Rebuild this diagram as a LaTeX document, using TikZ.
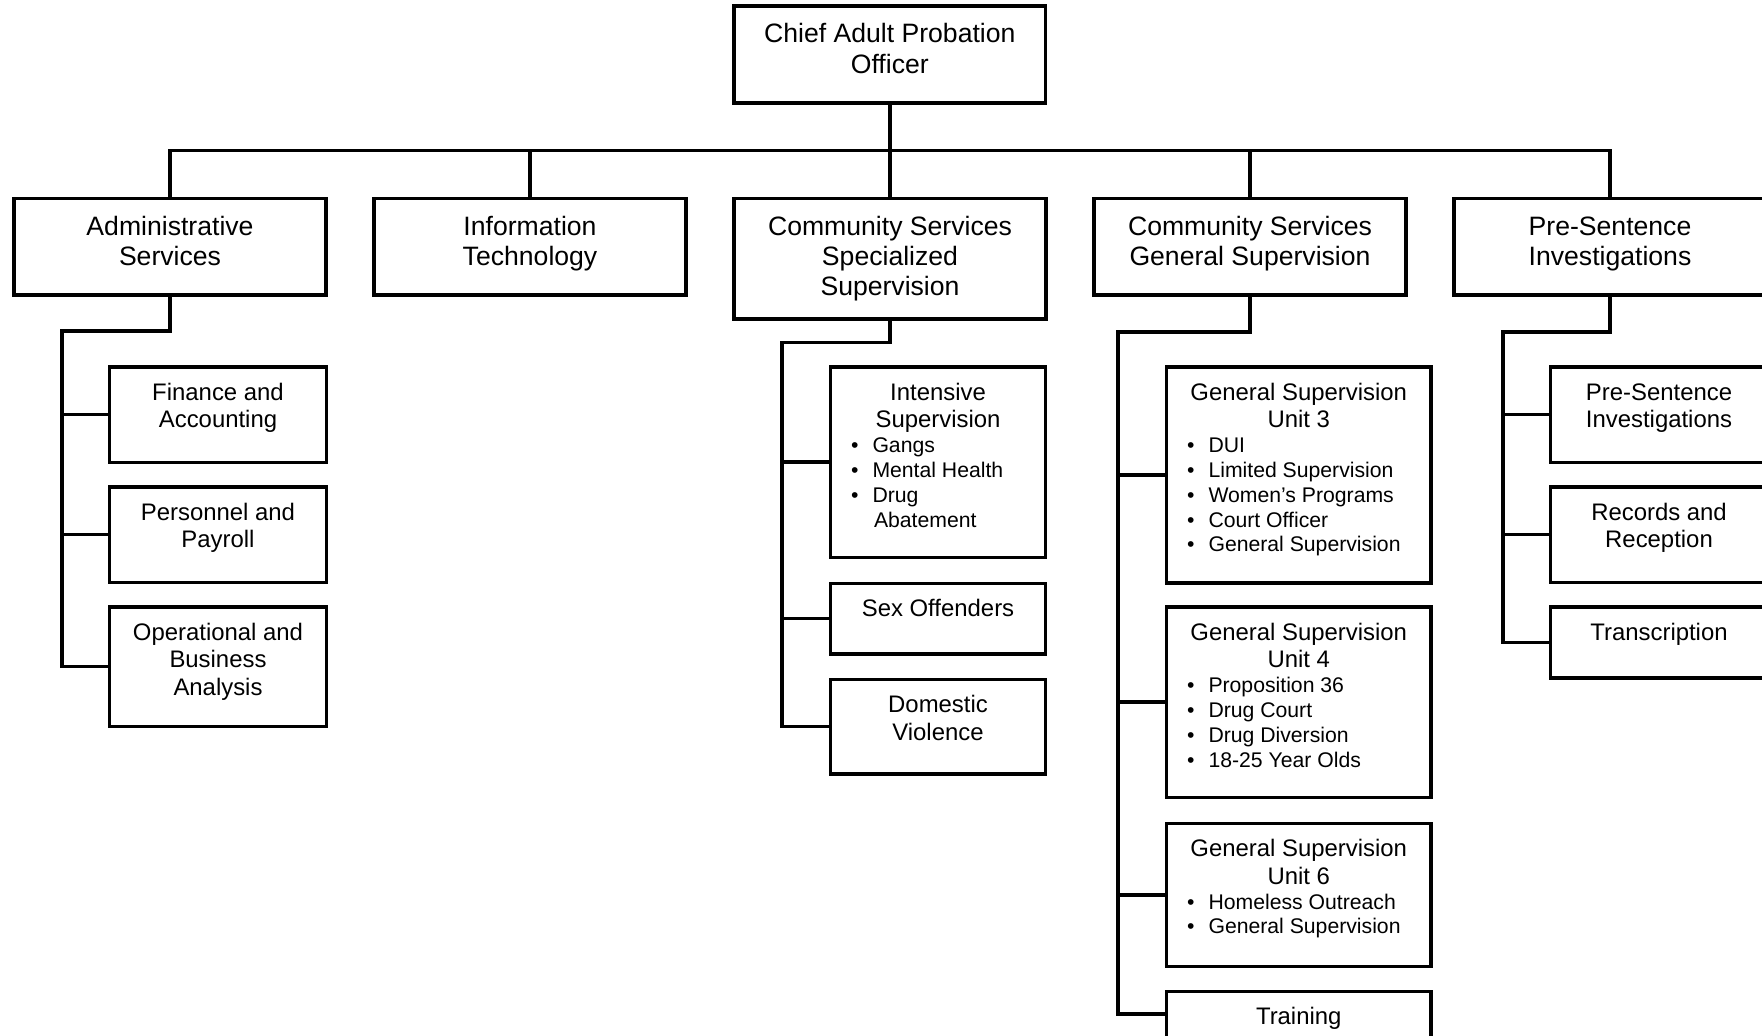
\documentclass[tikz,border=0pt]{standalone}
\usepackage{fontspec}
\setmainfont{Liberation Sans}
\newcommand\topbox[3]{\parbox[c][#1pt][t]{#2pt}{\centering\fontsize{26.6pt}{30.3pt}\selectfont\rule{0pt}{36.5pt}#3\par}}
\newcommand\subbox[4]{\parbox[c][#1pt][t]{#2pt}{\centering\fontsize{23.9pt}{27.5pt}\selectfont\rule{0pt}{33.5pt}#3\par #4}}
\newcommand\bul[1]{\leftskip=0pt\rightskip=0pt plus 1fil\fontsize{21.2pt}{24.8pt}\selectfont\noindent\hbox to 42pt{\hskip 20.5pt•\hss}#1\par}
\newcommand\cont[1]{\leftskip=0pt\rightskip=0pt plus 1fil\fontsize{21.2pt}{24.8pt}\selectfont\noindent\hskip 43.5pt #1\par}
\begin{document}
\begin{tikzpicture}[x=1pt,y=-1pt,
  box/.style={draw,line width=3.6pt,inner sep=0pt,outer sep=0pt,anchor=north},
  sub/.style={box,anchor=north west},
  link/.style={line width=3.6pt,line join=miter}]
\useasboundingbox (0,0) rectangle (1762,1036);
\clip (0,0) rectangle (1762,1036);
% top
\node[box] (chief) at (889.8,6.2) {\topbox{96.6}{311.5}{Chief Adult Probation\\Officer}};
% level 1
\node[box] (adm) at (170,198.5) {\topbox{96.5}{312}{Administrative\\Services}};
\node[box] (it) at (530,198.5) {\topbox{96.5}{312}{Information\\Technology}};
\node[box] (css) at (890,198.5) {\topbox{120.5}{312}{Community Services\\Specialized\\Supervision}};
\node[box] (csg) at (1250,198.5) {\topbox{96.5}{312}{Community Services\\General Supervision}};
\node[box] (psi) at (1610,198.5) {\topbox{96.5}{312}{Pre-Sentence\\Investigations}};
% admin children
\node[sub] (fin) at (109.5,366.8) {\subbox{95.5}{217}{Finance and\\Accounting}{}};
\node[sub] (per) at (109.5,486.8) {\subbox{95.5}{217}{Personnel and\\Payroll}{}};
\node[sub] (ope) at (109.5,606.8) {\subbox{119.5}{217}{Operational and\\Business\\Analysis}{}};
% css children
\node[sub] (ins) at (830.5,366.8) {\subbox{190.5}{215}{Intensive\\Supervision}{\bul{Gangs}\bul{Mental Health}\bul{Drug}\cont{Abatement}}};
\node[sub] (sex) at (830.5,583.3) {\subbox{70.5}{215}{Sex Offenders}{}};
\node[sub] (dom) at (830.5,679.3) {\subbox{94.5}{215}{Domestic\\Violence}{}};
% csg children
\node[sub] (u3) at (1166.5,366.8) {\subbox{216}{264.5}{General Supervision\\Unit 3}{\bul{DUI}\bul{Limited Supervision}\bul{Women’s Programs}\bul{Court Officer}\bul{General Supervision}}};
\node[sub] (u4) at (1166.5,606.8) {\subbox{190.5}{264.5}{General Supervision\\Unit 4}{\bul{Proposition 36}\bul{Drug Court}\bul{Drug Diversion}\bul{18-25 Year Olds}}};
\node[sub] (u6) at (1166.5,823.3) {\subbox{143}{264.5}{General Supervision\\Unit 6}{\bul{Homeless Outreach}\bul{General Supervision}}};
\node[sub] (trn) at (1166.5,991.3) {\subbox{72}{264.5}{Training}{}};
% psi children
\node[sub] (pre) at (1550.5,366.8) {\subbox{95.5}{217}{Pre-Sentence\\Investigations}{}};
\node[sub] (rec) at (1550.5,486.8) {\subbox{95.5}{217}{Records and\\Reception}{}};
\node[sub] (tra) at (1550.5,606.8) {\subbox{71}{217}{Transcription}{}};
% bus
\coordinate (bus) at (889.8,150.5);
\draw[link] (chief.south) -- (chief.south |- bus);
\draw[link] (adm.north) -- (adm.north |- bus) -- (psi.north |- bus) -- (psi.north);
\draw[link] (it.north) -- (it.north |- bus);
\draw[link] (css.north) -- (css.north |- bus);
\draw[link] (csg.north) -- (csg.north |- bus);
% admin spine
\coordinate (admsp) at (62,331);
\draw[link] (adm.south) |- (admsp) -- (admsp |- ope.west) -- (ope.west);
\draw[link] (admsp |- fin.west) -- (fin.west);
\draw[link] (admsp |- per.west) -- (per.west);
% css spine
\coordinate (csssp) at (782,342.3);
\draw[link] (css.south) |- (csssp) -- (csssp |- dom.west) -- (dom.west);
\draw[link] (csssp |- ins.west) -- (ins.west);
\draw[link] (csssp |- sex.west) -- (sex.west);
% csg spine
\coordinate (csgsp) at (1118,331.7);
\coordinate (trnc) at (1118,1014);
\draw[link] (csg.south) |- (csgsp) -- (trnc) -- (trnc -| trn.west);
\draw[link] (csgsp |- u3.west) -- (u3.west);
\draw[link] (csgsp |- u4.west) -- (u4.west);
\draw[link] (csgsp |- u6.west) -- (u6.west);
% psi spine
\coordinate (psisp) at (1502.7,331.7);
\draw[link] (psi.south) |- (psisp) -- (psisp |- tra.west) -- (tra.west);
\draw[link] (psisp |- pre.west) -- (pre.west);
\draw[link] (psisp |- rec.west) -- (rec.west);
\end{tikzpicture}
\end{document}
